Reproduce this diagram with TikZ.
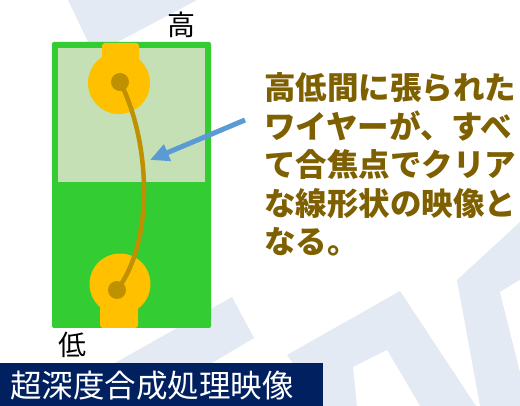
\documentclass[tikz,border=0pt]{standalone}
\usepackage{fontspec}
\newfontfamily\jp{Noto Sans CJK JP}
\usetikzlibrary{arrows.meta}

\definecolor{boardgreen}{HTML}{33CC33}
\definecolor{lightgreen}{HTML}{C5E0B4}
\definecolor{padgold}{HTML}{FFC000}
\definecolor{wiregold}{HTML}{BF9000}
\definecolor{textgold}{HTML}{7F6000}
\definecolor{arrowblue}{HTML}{5B9BD5}
\definecolor{navy}{HTML}{002060}
\definecolor{watermark}{HTML}{E4EAF4}

\tikzset{
  pad/.style={fill=padgold, draw=none},
  bonddot/.style={circle, fill=wiregold, draw=none, minimum size=18pt, inner sep=0pt},
  wire/.style={draw=wiregold, line width=4.5pt, line cap=round},
  pointer/.style={draw=arrowblue, line width=5pt, -{Triangle[length=19pt,width=17pt]}},
  mark label/.style={font=\jp\fontsize{28}{30}\selectfont, text=black, inner sep=0pt},
  note/.style={font=\jp\bfseries\fontsize{31.5}{38.6}\selectfont, text=textgold, align=left, inner sep=0pt},
  banner text/.style={font=\jp\fontsize{31.5}{34}\selectfont, text=white, inner sep=0pt},
}

\begin{document}
\begin{tikzpicture}[x=1pt, y=-1pt]
  \useasboundingbox (0,0) rectangle (520,406);
  \fill[white] (0,0) rectangle (520,406);

  % faint background logo strokes
  \fill[watermark] (68,0) -- (197,0) -- (110,46) -- (90,46) -- cycle;
  \fill[watermark] (115,363) -- (232,297) -- (254,338) -- (212,363) -- cycle;
  \fill[watermark] (287,355) -- (400,291) -- (476,406) -- (323,406) -- cycle;
  \fill[white] (353,367) -- (387,350) -- (420,406) -- (357,406) -- cycle;
  \fill[watermark] (457,280) -- (520,222) -- (520,406) -- (480,406) -- cycle;
  \fill[white] (500,292) -- (520,280) -- (520,372) -- cycle;

  % board: light upper half inside a green frame, solid green lower half
  \fill[boardgreen, rounded corners=2pt] (52,42) rectangle (211,328);
  \fill[lightgreen] (58,48) rectangle (205,182);

  % upper bonding pad
  \fill[pad, rounded corners=3pt] (102,43) rectangle (139,72);
  \fill[pad] (119,83) circle[radius=31];
  % lower bonding pad
  \fill[pad, rounded corners=3pt] (100,300) rectangle (138,328);
  \fill[pad] (120,284) circle[radius=30.5];

  % bond points and the wire stretched between them
  \node[bonddot] (topdot) at (120,82) {};
  \node[bonddot] (botdot) at (117,290) {};
  \draw[wire] (topdot.center) .. controls (150,140) and (155,240) .. (botdot.center);

  % height labels
  \node[mark label] (high) at (181,25) {高};
  \node[mark label] (low) at (72,345) {低};

  % explanation and pointer to the wire
  \node[note, anchor=base west] (note) at (264,254)
    {高低間に張られた\\ワイヤーが、すべ\\て合焦点でクリア\\な線形状の映像と\\なる。};
  \coordinate (pointfrom) at (245,120);
  \coordinate (pointto) at (150,160);
  \draw[pointer] (pointfrom) -- (pointto);

  % caption banner
  \fill[navy] (0,363) rectangle (323,406);
  \node[banner text, anchor=base west] (caption) at (10,398) {超深度合成処理映像};
\end{tikzpicture}
\end{document}
